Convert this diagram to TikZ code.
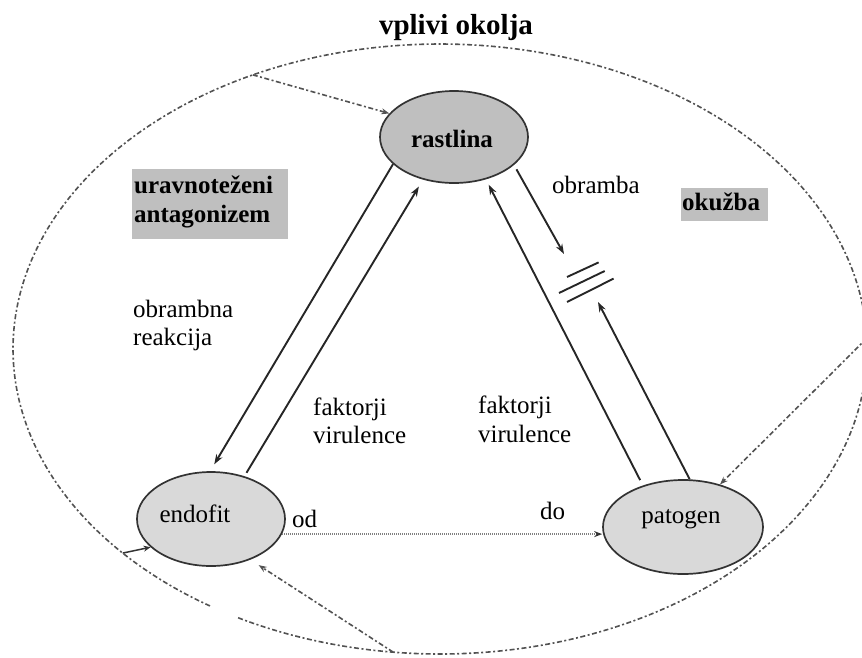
\documentclass[tikz,border=0pt]{standalone}
\usepackage{fontspec}
\setmainfont{Liberation Serif}
\usetikzlibrary{arrows.meta,calc,shapes.geometric}
\begin{document}
\begin{tikzpicture}[x=1pt,y=-1pt,
  blob/.style={ellipse, draw=black!80, line width=1.7pt, inner sep=0pt},
  flow/.style={line width=1.9pt, draw=black!85, -{Stealth[length=10pt,width=7pt]}},
  env/.style={line width=1.6pt, draw=black!68, dash pattern=on 5pt off 2.5pt on 2pt off 2.5pt},
  envarrow/.style={env, -{Stealth[length=8pt,width=6pt]}},
  dotflow/.style={line width=1.7pt, draw=black!50, dash pattern=on 1.2pt off 0.8pt, -{Stealth[length=8pt,width=6pt,black!80]}},
  blockline/.style={line width=1.9pt, draw=black!85},
  txt/.style={font=\fontsize{25}{29}\selectfont, inner sep=0pt, anchor=base west},
  btxt/.style={txt, font=\fontsize{25}{29}\selectfont\bfseries},
  graybox/.style={fill=black!25, draw=none, inner sep=0pt, anchor=north west}
]
\useasboundingbox (0,0) rectangle (862,657);

% environment ellipse (with a small gap at lower left)
\draw[env] plot[domain=122.6:478.4, samples=240, smooth] ({440+427*cos(\x)},{349+305*sin(\x)});
\coordinate (e1) at ({440+427*cos(244)},{349+305*sin(244)});
\coordinate (e2) at ({440+427*cos(138)},{349+305*sin(138)});
\coordinate (e3) at ({440+427*cos(96.3)},{349+305*sin(96.3)});
\coordinate (e4) at ({440+427*cos(-2)},{349+305*sin(-2)});

% title
\node[btxt, anchor=base, font=\fontsize{29}{33}\selectfont\bfseries] (title) at (456,34) {vplivi okolja};

% main nodes
\node[blob, fill=black!25, minimum width=148pt, minimum height=92pt] (rastlina) at (454,137) {};
\node[blob, fill=black!15, minimum width=148pt, minimum height=94pt] (endofit) at (211,519) {};
\node[blob, fill=black!15, minimum width=160pt, minimum height=94pt] (patogen) at (683,527) {};
\node[btxt, anchor=base] (rastlinatxt) at (452,147) {rastlina};
\node[txt, anchor=base] (endofittxt) at (195,522) {endofit};
\node[txt, anchor=base] (patogentxt) at (681,523) {patogen};

% shaded labels
\node[graybox, minimum width=156pt, minimum height=70pt] (ubox) at (132,169) {};
\node[btxt] (ua) at (134,193) {uravnoteženi};
\node[btxt] (ub) at (134,222) {antagonizem};
\node[graybox, minimum width=87pt, minimum height=33pt] (obox) at (681,188) {};
\node[btxt] (okuzba) at (682,210) {okužba};

% plain labels
\node[txt] (obramba) at (552,193) {obramba};
\node[txt] (or1) at (133,317) {obrambna};
\node[txt] (or2) at (133,345) {reakcija};
\node[txt] (fl1) at (313,415) {faktorji};
\node[txt] (fl2) at (313,443) {virulence};
\node[txt] (fr1) at (478,413) {faktorji};
\node[txt] (fr2) at (478,442) {virulence};
\node[txt] (od) at (292,527) {od};
\node[txt] (do) at (540,519) {do};

% block symbol
\coordinate (blk) at (586,283);
\coordinate (blktop) at (564,254);
\coordinate (blkbot) at (598,302);
\draw[blockline] ($(blk)+(-19,-6)$) -- ++(31.6,-14.6);
\draw[blockline] ($(blk)+(-27,10)$) -- ++(45.7,-22);
\draw[blockline] ($(blk)+(-19,19)$) -- ++(46.6,-23.4);

% solid arrows
\draw[flow, shorten >=8pt] (rastlina.204) -- (endofit.91);
\draw[flow, shorten <=4pt, shorten >=8pt] (endofit.52) -- (rastlina.234);
\draw[flow, shorten <=6pt, shorten >=6pt] (patogen.134) -- (rastlina.307);
\draw[flow, shorten <=5pt] (rastlina.335) -- (blktop);
\draw[flow] (patogen.82) -- (blkbot);

% dotted arrow endofit -> patogen
\draw[dotflow] (endofit.348) -- (endofit.348 -| patogen.west);

% environment arrows
\draw[envarrow] (e1) -- (rastlina.160);
\draw[line width=1.5pt, draw=black!80, -{Stealth[length=7pt,width=6pt]}] (e2) -- (endofit.205);
\draw[envarrow, shorten >=10pt] (e3) -- (endofit.314);
\draw[envarrow] (e4) -- (patogen.49);
\end{tikzpicture}
\end{document}
